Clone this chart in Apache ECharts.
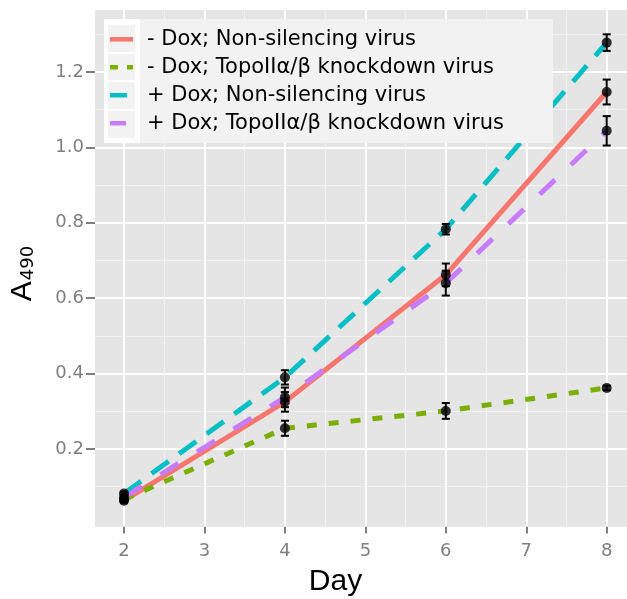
<!DOCTYPE html>
<html><head><meta charset="utf-8">
<script src="https://cdn.jsdelivr.net/npm/echarts@6/dist/echarts.min.js"></script>
<style>html,body{margin:0;padding:0;background:#fff}#c{width:627px;height:599px}</style>
</head><body><div id="c"></div>
<script>
const days = [2, 4, 6, 8];
const seriesNames = [
  '- Dox; Non-silencing virus',
  '- Dox; TopoIIα/β knockdown virus',
  '+ Dox; Non-silencing virus',
  '+ Dox; TopoIIα/β knockdown virus'
];
const minusDoxNS   = [0.063, 0.325, 0.662, 1.147];
const minusDoxNSErr = [0.005, 0.026, 0.030, 0.033];
const minusDoxKD   = [0.066, 0.255, 0.301, 0.362];
const minusDoxKDErr = [0.005, 0.020, 0.021, 0.006];
const plusDoxNS    = [0.082, 0.390, 0.783, 1.278];
const plusDoxNSErr  = [0.005, 0.019, 0.014, 0.022];
const plusDoxKD    = [0.072, 0.337, 0.640, 1.044];
const plusDoxKDErr  = [0.005, 0.026, 0.033, 0.039];
const xTicks = [2, 3, 4, 5, 6, 7, 8];
const xMinor = [2.5, 3.5, 4.5, 5.5, 6.5, 7.5];
const yTicks = [0.2, 0.4, 0.6, 0.8, 1.0, 1.2];
const yMinor = [0.1, 0.3, 0.5, 0.7, 0.9, 1.1, 1.3];

const colors = ['#F8766D', '#7CAE00', '#00BFC4', '#C77CFF'];
const dashes = ['solid', [10, 12], [21, 13], [21, 22]];
const means = [minusDoxNS, minusDoxKD, plusDoxNS, plusDoxKD];
const errs = [minusDoxNSErr, minusDoxKDErr, plusDoxNSErr, plusDoxKDErr];
const icons = [
  'rect',
  'path://M0,0h8v4.5h-8zM17,0h6v4.5h-6z',
  'path://M0,0h17v4.5h-17zM22.99,0h0.01v4.5h-0.01z',
  'path://M0,0h16v4.5h-16zM22.99,0h0.01v4.5h-0.01z'
];

const chart = echarts.init(document.getElementById('c'));

const gridMarks = [];
yTicks.forEach(v => gridMarks.push({yAxis: v, lineStyle: {color: '#FFFFFF', width: 2, type: 'solid'}}));
yMinor.forEach(v => gridMarks.push({yAxis: v, lineStyle: {color: '#F2F2F2', width: 1, type: 'solid'}}));
xTicks.forEach(v => gridMarks.push({xAxis: v, lineStyle: {color: '#FFFFFF', width: 2, type: 'solid'}}));
xMinor.forEach(v => gridMarks.push({xAxis: v, lineStyle: {color: '#F2F2F2', width: 1, type: 'solid'}}));

const series = [{
  type: 'line', name: 'grid', data: [], silent: true, z: 1,
  markLine: {silent: true, z: 1, symbol: ['none', 'none'], label: {show: false}, animation: false, data: gridMarks}
}];
means.forEach((m, i) => {
  series.push({
    type: 'line', name: seriesNames[i], z: 2 + i * 0.1,
    data: days.map((d, j) => [d, m[j]]),
    symbol: 'none', silent: true,
    itemStyle: {color: colors[i]},
    lineStyle: {color: colors[i], width: 5, type: dashes[i], cap: 'butt'}
  });
});
const errData = [];
const ptData = [];
means.forEach((m, i) => days.forEach((d, j) => {
  errData.push([d, m[j], errs[i][j]]);
  ptData.push([d, m[j]]);
}));
series.push({
  type: 'custom', name: 'err', z: 3, silent: true, data: errData,
  renderItem(params, api) {
    const x = api.value(0), m = api.value(1), e = api.value(2);
    const t = api.coord([x, m + e]), b = api.coord([x, m - e]);
    const tl = api.coord([x - 0.05, m + e]), tr = api.coord([x + 0.05, m + e]);
    const bl = api.coord([x - 0.05, m - e]), br = api.coord([x + 0.05, m - e]);
    const st = {stroke: '#000', lineWidth: 2};
    return {type: 'group', children: [
      {type: 'line', shape: {x1: t[0], y1: t[1], x2: b[0], y2: b[1]}, style: st},
      {type: 'line', shape: {x1: tl[0], y1: tl[1], x2: tr[0], y2: tr[1]}, style: st},
      {type: 'line', shape: {x1: bl[0], y1: bl[1], x2: br[0], y2: br[1]}, style: st}
    ]};
  }
});
series.push({
  type: 'scatter', name: 'pts', z: 4, silent: true, data: ptData,
  symbol: 'circle', symbolSize: 10, itemStyle: {color: '#000'}
});

chart.setOption({
  animation: false,
  grid: {left: 95, top: 10, right: 0, bottom: 72.3, show: true, backgroundColor: '#E5E5E5', borderWidth: 0},
  xAxis: {
    type: 'value', min: 1.6395, max: 8.2523,
    splitLine: {show: false}, axisLine: {show: false},
    axisTick: {show: true, length: 9, lineStyle: {color: '#7F7F7F', width: 2}, customValues: xTicks},
    axisLabel: {customValues: xTicks, color: '#7F7F7F', fontSize: 18, fontFamily: 'DejaVu Sans', margin: 16}
  },
  yAxis: {
    type: 'value', min: -0.0061, max: 1.3645,
    splitLine: {show: false}, axisLine: {show: false},
    axisTick: {show: true, length: 9, lineStyle: {color: '#7F7F7F', width: 2}, customValues: yTicks},
    axisLabel: {customValues: yTicks, color: '#7F7F7F', fontSize: 18, fontFamily: 'DejaVu Sans', margin: 11,
      formatter: v => v.toFixed(1)}
  },
  legend: {
    orient: 'vertical', left: 110, top: 25.3, padding: 0, itemGap: 0,
    itemWidth: 23, itemHeight: 4.5, selectedMode: false, z: 6,
    itemStyle: {borderWidth: 0},
    textStyle: {fontSize: 21, fontFamily: 'DejaVu Sans', color: '#000', lineHeight: 18, padding: [0, 0, 10, 9]},
    data: seriesNames.map((n, i) => ({name: n, icon: icons[i]}))
  },
  graphic: [
    {type: 'rect', z: 5, shape: {x: 104, y: 19, width: 36, height: 124}, style: {fill: '#FFFFFF'}},
    {type: 'rect', z: 5, shape: {x: 140, y: 19, width: 413, height: 124}, style: {fill: '#F2F2F2'}},
    {type: 'rect', z: 5, shape: {x: 108, y: 25, width: 27, height: 27}, style: {fill: '#F2F2F2'}},
    {type: 'rect', z: 5, shape: {x: 108, y: 54, width: 27, height: 26}, style: {fill: '#F2F2F2'}},
    {type: 'rect', z: 5, shape: {x: 108, y: 82, width: 27, height: 27}, style: {fill: '#F2F2F2'}},
    {type: 'rect', z: 5, shape: {x: 108, y: 111, width: 27, height: 27}, style: {fill: '#F2F2F2'}},
    {type: 'text', z: 5, x: 335.5, y: 581.6, style: {text: 'Day', fontSize: 30, fontFamily: 'Liberation Sans',
      fill: '#000', align: 'center', verticalAlign: 'middle'}},
    {type: 'text', z: 5, x: 23, y: 273.5, rotation: Math.PI / 2, style: {
      text: '{a|A}{s|490}', align: 'center', verticalAlign: 'middle',
      rich: {
        a: {fontSize: 30, fontFamily: 'Liberation Sans', fill: '#000', lineHeight: 30, verticalAlign: 'bottom'},
        s: {fontSize: 18, fontFamily: 'DejaVu Sans', fill: '#000', lineHeight: 18, verticalAlign: 'bottom', padding: [0, 0, 1, 1]}
      }}}
  ],
  series: series
});
</script>
</body></html>
